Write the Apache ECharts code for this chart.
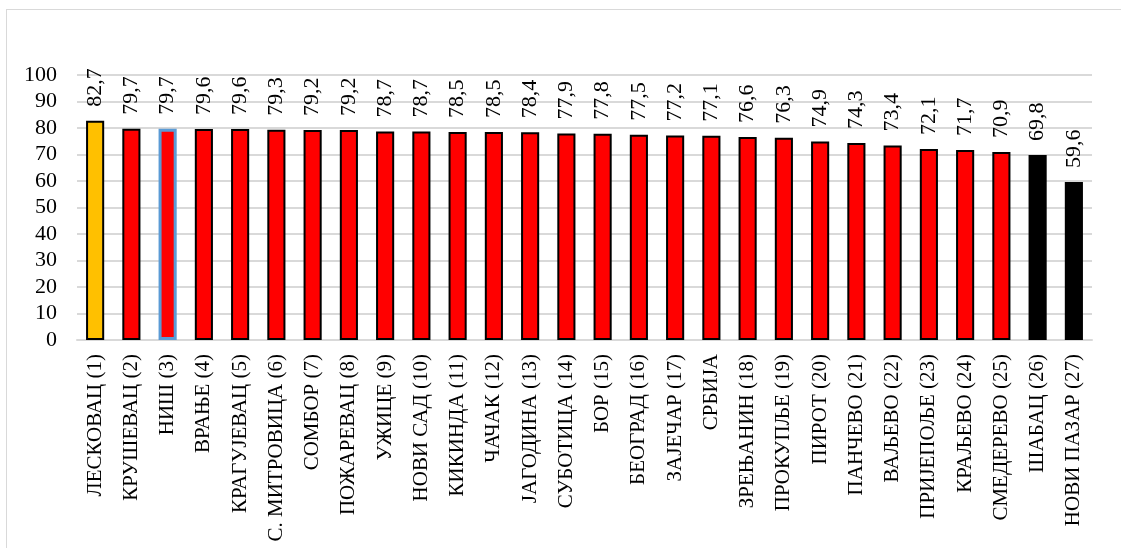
<!DOCTYPE html>
<html>
<head>
<meta charset="utf-8">
<script src="https://cdn.jsdelivr.net/npm/echarts@6/dist/echarts.min.js"></script>
<style>
  html, body { margin: 0; padding: 0; background: #fff; }
  #frame { position: absolute; left: 6px; top: 9px; width: 1130px; height: 560px; border: 1px solid #d9d9d9; }
  #chart { position: absolute; left: 0; top: 0; width: 1121px; height: 548px; }
</style>
</head>
<body>
<div id="frame"></div>
<div id="chart"></div>
<script>
const cities = ['ЛЕСКОВАЦ (1)', 'КРУШЕВАЦ (2)', 'НИШ (3)', 'ВРАЊЕ (4)', 'КРАГУЈЕВАЦ (5)', 'С. МИТРОВИЦА (6)',
  'СОМБОР (7)', 'ПОЖАРЕВАЦ (8)', 'УЖИЦЕ (9)', 'НОВИ САД (10)', 'КИКИНДА (11)', 'ЧАЧАК (12)',
  'ЈАГОДИНА (13)', 'СУБОТИЦА (14)', 'БОР (15)', 'БЕОГРАД (16)', 'ЗАЈЕЧАР (17)', 'СРБИЈА',
  'ЗРЕЊАНИН (18)', 'ПРОКУПЉЕ (19)', 'ПИРОТ (20)', 'ПАНЧЕВО (21)', 'ВАЉЕВО (22)', 'ПРИЈЕПОЉЕ (23)',
  'КРАЉЕВО (24)', 'СМЕДЕРЕВО (25)', 'ШАБАЦ (26)', 'НОВИ ПАЗАР (27)']
const values = [82.7, 79.7, 79.7, 79.6, 79.6, 79.3, 79.2, 79.2, 78.7, 78.7, 78.5, 78.5, 78.4, 77.9,
  77.8, 77.5, 77.2, 77.1, 76.6, 76.3, 74.9, 74.3, 73.4, 72.1, 71.7, 70.9, 69.8, 59.6]
const yTicks = [0, 10, 20, 30, 40, 50, 60, 70, 80, 90, 100]

const font = 'Liberation Serif'

// боје стубова: први жут, НИШ с плавим оквиром, последња два црна
const barData = values.map((v, i) => {
  let item = { value: v, itemStyle: { color: '#ff0000', borderColor: '#000', borderWidth: 2 } }
  if (i === 0) item.itemStyle.color = '#ffc000'
  if (i === 2) item.itemStyle = { color: '#ff0000', borderColor: '#5b9bd5', borderWidth: 3 }
  if (i >= values.length - 2) item.itemStyle.color = '#000'
  return item
})

const chart = echarts.init(document.getElementById('chart'))
chart.setOption({
  animation: false,
  grid: { left: 77, right: 29, top: 75, bottom: 208 },
  xAxis: {
    type: 'category',
    data: cities,
    axisTick: { show: false },
    axisLine: { lineStyle: { color: '#d9d9d9', width: 2 } },
    axisLabel: { interval: 0, rotate: 90, margin: 14, color: '#000', fontFamily: font, fontSize: 21 }
  },
  yAxis: {
    type: 'value',
    min: yTicks[0],
    max: yTicks[yTicks.length - 1],
    interval: 10,
    axisLine: { show: false },
    axisTick: { show: false },
    axisLabel: { color: '#000', fontFamily: font, fontSize: 22, margin: 20 },
    splitLine: { lineStyle: { color: '#d9d9d9', width: 2 } }
  },
  series: [{
    type: 'bar',
    data: barData,
    barWidth: '50%',
    label: {
      show: true,
      position: 'top',
      rotate: 90,
      align: 'left',
      verticalAlign: 'middle',
      distance: 14,
      color: '#000',
      fontFamily: font,
      fontSize: 22,
      formatter: p => String(p.value).replace('.', ',')
    }
  }]
})
</script>
</body>
</html>
